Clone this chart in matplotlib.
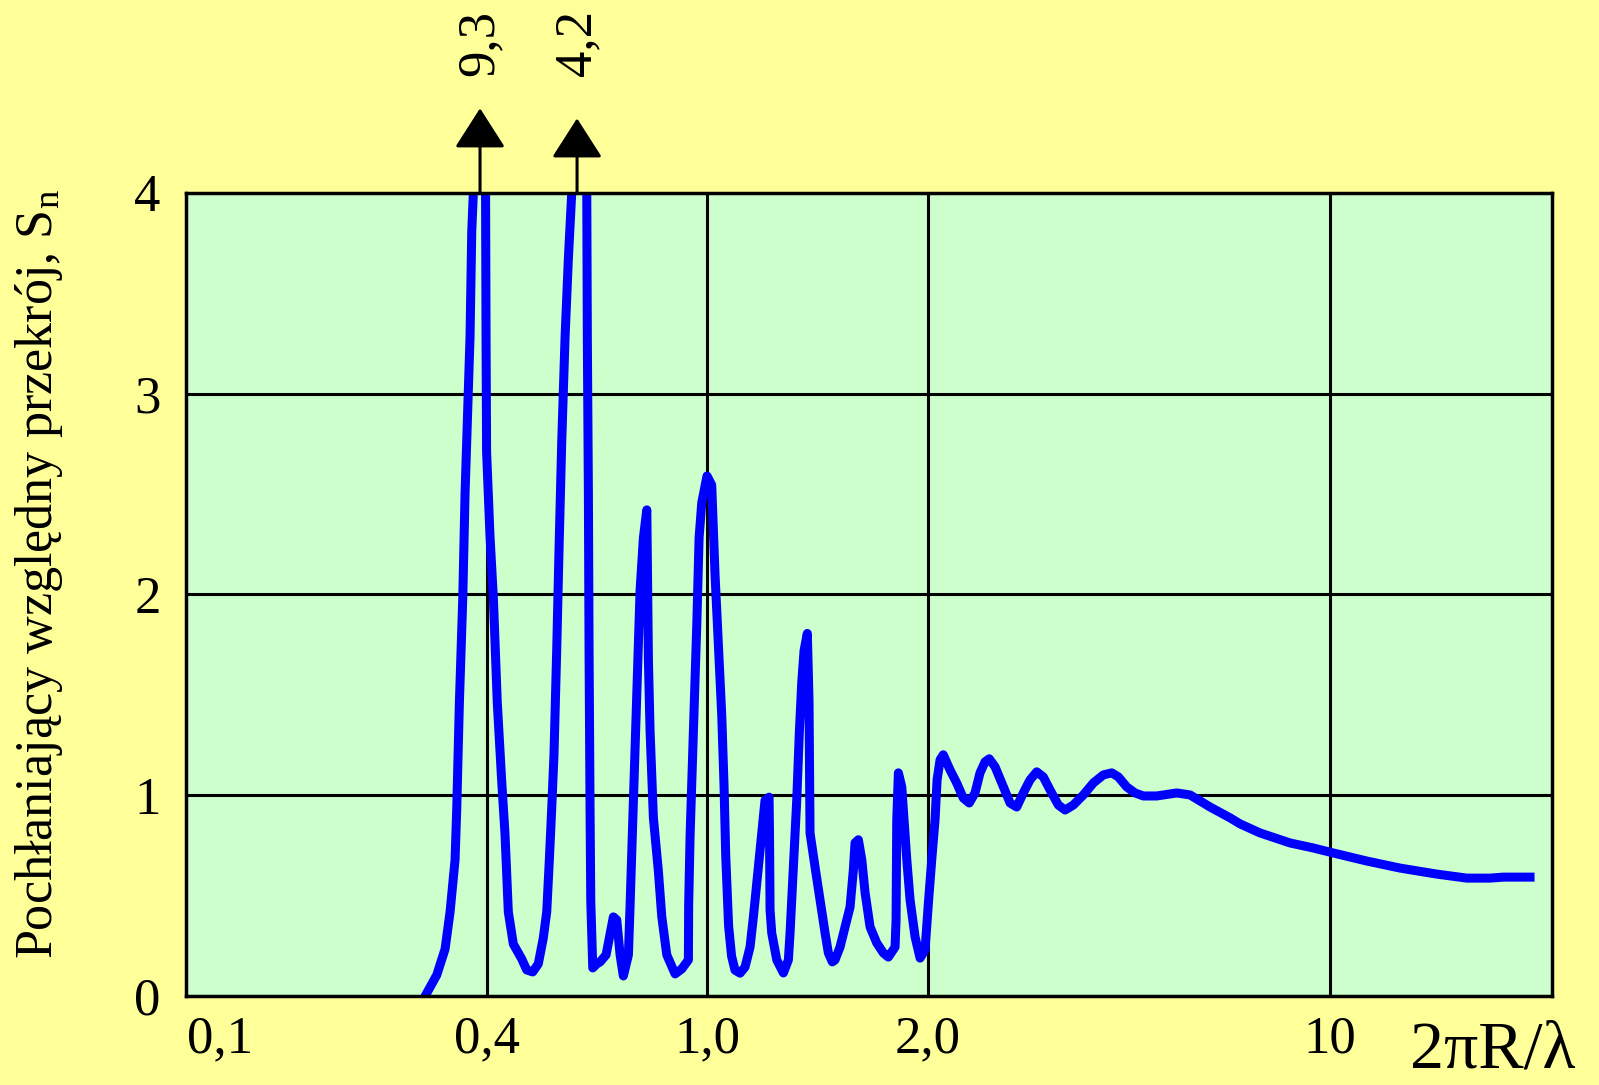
import numpy as np
import matplotlib.pyplot as plt
from matplotlib.patches import FancyArrowPatch

plt.rcParams['font.family'] = ['Liberation Serif', 'DejaVu Serif']
plt.rcParams['mathtext.default'] = 'regular'

# 2*pi*R/lambda against relative absorption cross-section S_n
x = np.array([
    0.2905, 0.3088, 0.3224, 0.3309, 0.3396, 0.3426, 0.3473, 0.3535, 0.3577, 0.3639,
    0.3671, 0.3704, 0.3735, 0.3867, 0.3980, 0.3990, 0.4001, 0.4058, 0.4115, 0.4183,
    0.4260, 0.4319, 0.4379, 0.4471, 0.4629, 0.4727, 0.4846, 0.4960, 0.5064, 0.5137,
    0.5193, 0.5245, 0.5294, 0.5354, 0.5408, 0.5468, 0.5544, 0.5621, 0.5700, 0.5827,
    0.6067, 0.6081, 0.6108, 0.6125, 0.6150, 0.6169, 0.6220, 0.6324, 0.6412, 0.6574,
    0.6683, 0.6776, 0.6872, 0.6968, 0.7063, 0.7213, 0.7263, 0.7364, 0.7468, 0.7572,
    0.7676, 0.7786, 0.7838, 0.7892, 0.8002, 0.8169, 0.8285, 0.8460, 0.8758, 0.9004,
    0.9255, 0.9265, 0.9320, 0.9449, 0.9583, 0.9676, 0.9784, 1.0000, 1.0148, 1.0254,
    1.0361, 1.0472, 1.0548, 1.0604, 1.0700, 1.0800, 1.0917, 1.1092, 1.1266, 1.1445,
    1.1565, 1.1747, 1.1872, 1.1996, 1.2148, 1.2165, 1.2186, 1.2250, 1.2445, 1.2706,
    1.2907, 1.2975, 1.3110, 1.3250, 1.3357, 1.3459, 1.3557, 1.3697, 1.3770, 1.3814,
    1.4033, 1.4256, 1.4481, 1.4632, 1.4815, 1.4941, 1.5177, 1.5417, 1.5661, 1.5825,
    1.5909, 1.6075, 1.6249, 1.6418, 1.6676, 1.7030, 1.7389, 1.7660, 1.8036, 1.8093,
    1.8133, 1.8225, 1.8421, 1.8554, 1.8712, 1.8906, 1.9205, 1.9509, 1.9815, 2.003,
    2.030, 2.057, 2.074, 2.099, 2.126, 2.184, 2.243, 2.303, 2.359, 2.414,
    2.463, 2.513, 2.556, 2.616, 2.687, 2.778, 2.853, 2.929, 3.009, 3.091,
    3.173, 3.260, 3.370, 3.462, 3.579, 3.725, 3.878, 4.036, 4.174, 4.285,
    4.432, 4.581, 4.737, 4.997, 5.415, 5.711, 6.187, 6.703, 6.977, 7.556,
    8.523, 9.357, 10.14, 11.59, 13.24, 15.34, 17.30, 18.98, 20.03, 22.28,
])
s = np.array([
    0.000, 0.106, 0.235, 0.420, 0.679, 0.937, 1.460, 1.983, 2.501, 3.024,
    3.283, 3.806, 4.000, 9.300, 4.000, 3.280, 2.710, 2.291, 1.983, 1.460,
    1.072, 0.808, 0.420, 0.260, 0.186, 0.131, 0.121, 0.161, 0.290, 0.420,
    0.679, 0.937, 1.201, 1.719, 2.241, 2.764, 3.283, 3.676, 4.000, 4.200,
    4.000, 3.283, 2.501, 1.719, 0.937, 0.470, 0.141, 0.161, 0.171, 0.206,
    0.310, 0.395, 0.380, 0.206, 0.101, 0.206, 0.450, 0.973, 1.497, 2.022,
    2.281, 2.421, 1.674, 1.322, 0.888, 0.624, 0.397, 0.206, 0.111, 0.136,
    0.181, 0.450, 0.798, 1.322, 1.848, 2.283, 2.457, 2.590, 2.545, 2.100,
    1.750, 1.400, 1.050, 0.700, 0.350, 0.200, 0.130, 0.115, 0.145, 0.245,
    0.394, 0.643, 0.812, 0.976, 0.991, 0.810, 0.430, 0.315, 0.181, 0.116,
    0.181, 0.315, 0.643, 0.976, 1.310, 1.560, 1.720, 1.806, 1.470, 0.812,
    0.643, 0.479, 0.315, 0.215, 0.171, 0.181, 0.245, 0.345, 0.444, 0.629,
    0.764, 0.779, 0.679, 0.515, 0.345, 0.265, 0.215, 0.195, 0.245, 0.380,
    0.878, 1.112, 1.042, 0.878, 0.679, 0.479, 0.295, 0.190, 0.230, 0.464,
    0.679, 0.878, 1.077, 1.177, 1.202, 1.127, 1.062, 0.987, 0.962, 1.012,
    1.112, 1.167, 1.182, 1.142, 1.062, 0.962, 0.942, 1.012, 1.077, 1.117,
    1.092, 1.027, 0.952, 0.927, 0.952, 1.002, 1.062, 1.102, 1.112, 1.092,
    1.042, 1.012, 0.997, 0.997, 1.012, 1.002, 0.942, 0.888, 0.858, 0.813,
    0.763, 0.738, 0.713, 0.673, 0.638, 0.608, 0.588, 0.588, 0.593, 0.593,
])

tick_vals = [0.1, 0.4, 1.0, 2.0, 10.0]
tick_labels = ['0,1', '0,4', '1,0', '2,0', '10']
grid_x = [0.4, 1.0, 2.0, 10.0]
grid_y = [1, 2, 3]
# peaks running off the top of the plot: position, label, height of the arrow tip
peaks = [(0.3867, '9,3', 4.42), (0.5827, '4,2', 4.37)]

# the original axis is hand drawn: log-like but with different spacing per segment
knot_lx = np.log10([0.0836, 0.1, 0.4, 1.0, 2.0, 10.0, 24.33])
knot_p = np.array([185.6, 220.0, 486.5, 707.0, 928.0, 1330.0, 1552.0])


def forward(v):
    v = np.clip(np.asarray(v, dtype=float), 1e-6, None)
    return np.interp(np.log10(v), knot_lx, knot_p)


def inverse(p):
    return 10 ** np.interp(p, knot_p, knot_lx)


yellow = '#FFFF99'
green = '#CCFFCC'

fig = plt.figure(figsize=(15.99, 10.85), dpi=100, facecolor=yellow)
ax = fig.add_axes([0.1161, 0.0818, 0.8545, 0.7406], facecolor=green)
ax.set_xscale('function', functions=(forward, inverse))
ax.set_xlim(0.0836, 24.33)
ax.set_ylim(0, 4)

for gx in grid_x:
    ax.axvline(gx, color='black', lw=2.2, zorder=1)
for gy in grid_y:
    ax.axhline(gy, color='black', lw=2.2, zorder=1)

ax.plot(x, s, color='#0000FF', lw=6.5, solid_joinstyle='round', zorder=3)

ax.set_xticks(tick_vals)
ax.set_xticklabels(tick_labels)
ax.set_yticks([0, 1, 2, 3, 4])
ax.set_yticklabels(['0', '1', '2', '3', '4'])
ax.minorticks_off()
ax.tick_params(axis='both', length=0, labelsize=38)
ax.tick_params(axis='x', pad=14)
ax.tick_params(axis='y', pad=18)
for sp in ax.spines.values():
    sp.set_linewidth(2.5)
    sp.set_zorder(4)

for px, lab, tip in peaks:
    arr = FancyArrowPatch((px, 4.0), (px, tip),
                          arrowstyle='-|>,head_length=25,head_width=16',
                          mutation_scale=1, lw=2.2, color='black',
                          shrinkA=0, shrinkB=0, clip_on=False)
    ax.add_patch(arr)
    ax.text(px, 4.745, lab, rotation=90, ha='center', va='center',
            fontsize=38, clip_on=False)

fig.text(0.0244, 0.471, 'Pochłaniający względny przekrój, S$_n$', rotation=90,
         ha='center', va='center', fontsize=37.5)
fig.text(0.9335, 0.003, '2πR/λ', ha='center', va='bottom', fontsize=49)

fig.savefig('out.png', dpi=100, facecolor=yellow)
